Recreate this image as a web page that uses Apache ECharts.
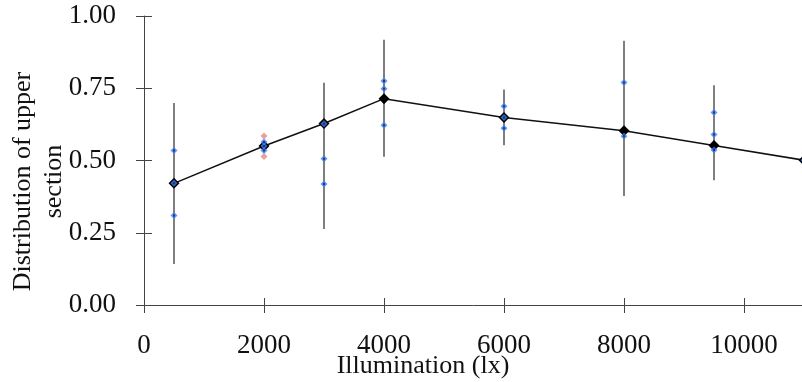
<!DOCTYPE html>
<html>
<head>
<meta charset="utf-8">
<script src="https://cdn.jsdelivr.net/npm/echarts@6/dist/echarts.min.js"></script>
<style>
  html, body { margin: 0; padding: 0; background: #fff; }
  #chart { width: 802px; height: 382px; }
</style>
</head>
<body>
<div id="chart"></div>
<script>
// illumination levels and group means
var illum = [500, 2000, 3000, 4000, 6000, 8000, 9500, 11000];
var meanVals = [0.421, 0.550, 0.628, 0.714, 0.649, 0.603, 0.552, 0.501];
// error bar ends (null = no bar drawn)
var errLow = [0.142, null, 0.263, 0.513, 0.553, 0.377, 0.432, null];
var errHigh = [0.699, null, 0.769, 0.918, 0.746, 0.914, 0.760, null];
// individual samples (blue)
var blueX = [500, 500, 500, 2000, 2000, 2000, 3000, 3000, 3000, 4000, 4000, 4000,
             6000, 6000, 6000, 8000, 8000, 9500, 9500, 9500, 11000];
var blueY = [0.535, 0.421, 0.310, 0.564, 0.550, 0.535, 0.627, 0.506, 0.419, 0.775, 0.748, 0.622,
             0.688, 0.649, 0.612, 0.770, 0.584, 0.666, 0.590, 0.536, 0.501];
// extra samples (red)
var redX = [2000, 2000];
var redY = [0.585, 0.514];
var yTicks = [0, 0.25, 0.5, 0.75, 1];

(function () {
    var myChart = echarts.init(document.getElementById("chart"));

    var zip = function (xs, ys) {
        var out = [];
        for (var i = 0; i < xs.length; i++) {
            if (ys[i] !== null) out.push([xs[i], ys[i]]);
        }
        return out;
    };
    var errData = [];
    for (var i = 0; i < illum.length; i++) {
        if (errLow[i] !== null) errData.push([illum[i], errLow[i], errHigh[i]]);
    }

    var font = "Liberation Serif";
    var axisColor = "#444";
    var baseX = {
        type: "value",
        min: 0,
        max: 11000,
        interval: 2000,
        position: "bottom",
        splitLine: { show: false }
    };
    var baseY = {
        type: "value",
        min: yTicks[0],
        max: yTicks[yTicks.length - 1],
        interval: 0.25,
        position: "left",
        splitLine: { show: false }
    };

    var option = {
        animation: false,
        backgroundColor: "#fff",
        grid: { left: 144, right: -2, top: 16, bottom: 77, containLabel: false, outerBoundsMode: "none" },
        xAxis: [
            Object.assign({}, baseX, {
                name: "Illumination (lx)",
                nameLocation: "middle",
                nameGap: 48,
                nameMoveOverlap: false,
                nameTextStyle: { fontFamily: font, fontSize: 26, color: "#111", padding: [0, 102, 0, 0] },
                axisLine: { lineStyle: { color: axisColor, width: 1 } },
                axisTick: { length: 8, lineStyle: { color: axisColor } },
                axisLabel: {
                    margin: 27,
                    showMaxLabel: false,
                    fontFamily: font, fontSize: 27, color: "#111",
                    formatter: function (v) { return String(v); }
                }
            }),
            Object.assign({}, baseX, {
                axisLine: { show: false },
                axisTick: { inside: true, length: 7, lineStyle: { color: axisColor } },
                axisLabel: { show: false }
            })
        ],
        yAxis: [
            Object.assign({}, baseY, {
                name: "Distribution of upper\nsection",
                nameLocation: "middle",
                nameGap: 74,
                nameMoveOverlap: false,
                nameTextStyle: { fontFamily: font, fontSize: 26, color: "#111", lineHeight: 31, padding: [0, 42, 0, 0] },
                axisLine: { lineStyle: { color: axisColor, width: 1 } },
                axisTick: { length: 8, lineStyle: { color: axisColor } },
                axisLabel: {
                    margin: 28,
                    fontFamily: font, fontSize: 27, color: "#111",
                    formatter: function (v) { return v.toFixed(2); }
                }
            }),
            Object.assign({}, baseY, {
                axisLine: { show: false },
                axisTick: { inside: true, length: 8, lineStyle: { color: axisColor } },
                axisLabel: { show: false }
            })
        ],
        series: [
            {
                // 误差线
                type: "custom",
                z: 1,
                data: errData,
                renderItem: function (params, api) {
                    var p1 = api.coord([api.value(0), api.value(1)]);
                    var p2 = api.coord([api.value(0), api.value(2)]);
                    return {
                        type: "line",
                        shape: { x1: p1[0], y1: p1[1], x2: p2[0], y2: p2[1] },
                        style: { stroke: "#555", lineWidth: 1.5 }
                    };
                }
            },
            {
                type: "line",
                z: 2,
                data: zip(illum, meanVals),
                symbol: "diamond",
                symbolSize: 11,
                itemStyle: { color: "#000" },
                lineStyle: { color: "#111", width: 1.5 }
            },
            {
                type: "scatter",
                z: 3,
                data: zip(redX, redY),
                symbol: "diamond",
                symbolSize: 7,
                itemStyle: { color: "#e08c84" }
            },
            {
                type: "scatter",
                z: 4,
                data: zip(blueX, blueY),
                symbol: "diamond",
                symbolSize: 7,
                itemStyle: { color: "#3b7bf5" }
            },
            {
                // center dots
                type: "scatter",
                z: 5,
                data: zip(blueX, blueY),
                symbol: "rect",
                symbolSize: 2,
                itemStyle: { color: "#1a2a50" }
            }
        ]
    };
    myChart.setOption(option);
    window.addEventListener("resize", function () {
        myChart.resize();
    });
})();
</script>
</body>
</html>
